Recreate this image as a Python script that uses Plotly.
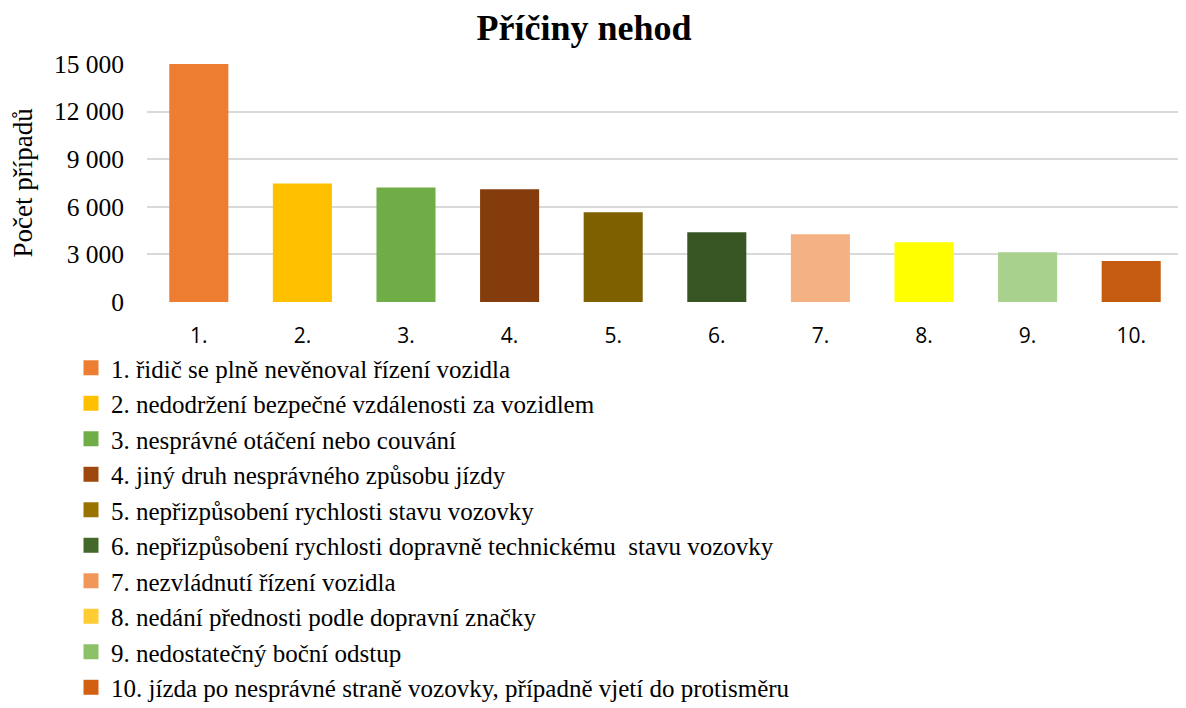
import plotly.graph_objects as go

categories = ["1.", "2.", "3.", "4.", "5.", "6.", "7.", "8.", "9.", "10."]
values = [15000, 7470, 7220, 7100, 5650, 4400, 4270, 3770, 3140, 2580]
bar_colors = ["#ED7D31", "#FFC000", "#70AD47", "#843C0C", "#7F6000",
              "#375623", "#F4B183", "#FFFF00", "#A9D18E", "#C55A11"]
legend_labels = [
    "1. řidič se plně nevěnoval řízení vozidla",
    "2. nedodržení bezpečné vzdálenosti za vozidlem",
    "3. nesprávné otáčení nebo couvání",
    "4. jiný druh nesprávného způsobu jízdy",
    "5. nepřizpůsobení rychlosti stavu vozovky",
    "6. nepřizpůsobení rychlosti dopravně technickému  stavu vozovky",
    "7. nezvládnutí řízení vozidla",
    "8. nedání přednosti podle dopravní značky",
    "9. nedostatečný boční odstup",
    "10. jízda po nesprávné straně vozovky, případně vjetí do protisměru",
]
legend_colors = ["#ED7D31", "#FFC000", "#70AD47", "#9E480E", "#997300",
                 "#43682B", "#F1975A", "#FFCD33", "#8CC168", "#D26012"]
y_ticks = [0, 3000, 6000, 9000, 12000, 15000]
y_ticktext = ["0", "3 000", "6 000", "9 000", "12 000", "15 000"]

W, H = 1178, 700  # page body has an 8px margin

fig = go.Figure()
fig.add_trace(go.Bar(
    x=categories, y=values, marker=dict(color=bar_colors, line=dict(width=0)),
    width=0.57, showlegend=False, hoverinfo="x+y",
))
for lab, col in zip(legend_labels, legend_colors):
    fig.add_trace(go.Scatter(
        x=[None], y=[None], mode="markers", name=lab,
        marker=dict(symbol="square", size=15, color=col),
        showlegend=True,
    ))

serif = "Liberation Serif, Times New Roman, serif"
fig.update_layout(
    width=W, height=H,
    paper_bgcolor="white", plot_bgcolor="white",
    margin=dict(l=139, r=3, t=55, b=406, autoexpand=False),
    title=dict(text="<b>Příčiny nehod</b>", x=576/W, xref="container", xanchor="center",
               y=1 - 19/H, yref="container", yanchor="middle",
               font=dict(family=serif, size=36, color="black")),
    font=dict(family=serif, color="black"),
    xaxis=dict(
        type="category", showgrid=False, showline=False, zeroline=False,
        tickfont=dict(family="Open Sans, Noto Sans, sans-serif", size=21, color="black"),
        ticks="", ticklabelstandoff=19,
    ),
    yaxis=dict(
        range=[-1, 15060], tickvals=y_ticks, ticktext=y_ticktext,
        showgrid=True, gridcolor="#D9D9D9", gridwidth=1.5,
        zeroline=False, showline=False, ticks="",
        tickfont=dict(family=serif, size=25.5, color="black"),
        ticklabelstandoff=22,
    ),
    annotations=[dict(
        text="Počet případů", textangle=-90, showarrow=False,
        x=(14 - 139) / (W - 139 - 3), xref="paper", xanchor="center",
        y=0.5, yref="paper", yanchor="middle",
        font=dict(family=serif, size=27, color="black"),
    )],
    legend=dict(
        x=63 / W, xref="container", xanchor="left",
        y=-0.18, yanchor="top", orientation="v",
        font=dict(family=serif, size=25, color="black"),
        bgcolor="rgba(0,0,0,0)", itemwidth=30, tracegroupgap=0,
        itemclick=False, maxheight=430,
    ),
    bargap=0.43,
)

fig.write_html("out.html")
